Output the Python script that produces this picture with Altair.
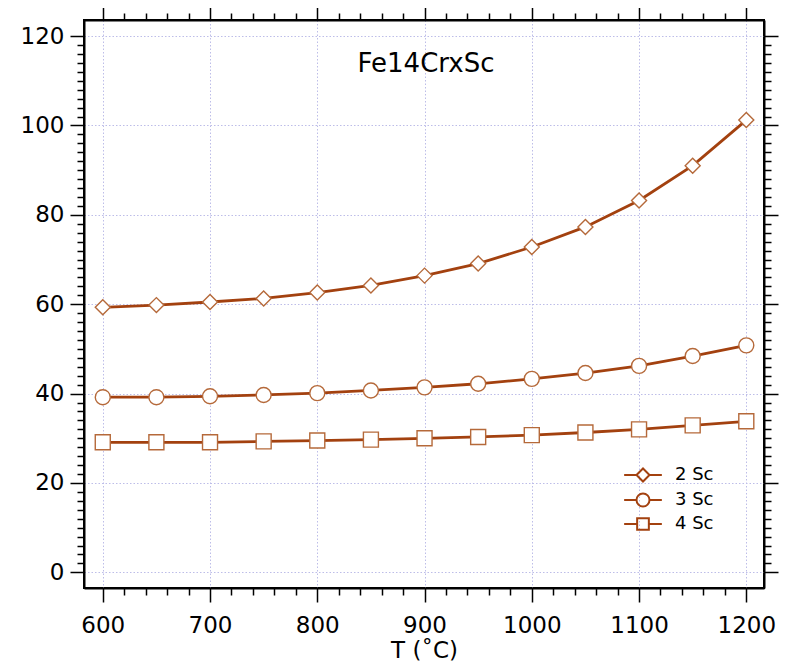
import altair as alt
import pandas as pd

temps = [600, 650, 700, 750, 800, 850, 900, 950, 1000, 1050, 1100, 1150, 1200]
sc2 = [59.3, 59.8, 60.5, 61.3, 62.6, 64.2, 66.4, 69.1, 72.8, 77.3, 83.2, 91.0, 101.2]
sc3 = [39.2, 39.2, 39.4, 39.7, 40.1, 40.7, 41.4, 42.2, 43.3, 44.6, 46.2, 48.4, 50.8]
sc4 = [29.1, 29.1, 29.1, 29.3, 29.5, 29.7, 30.0, 30.3, 30.7, 31.3, 32.0, 32.9, 33.8]
series_names = ["2 Sc", "3 Sc", "4 Sc"]
plot_shapes = ["diamond", "circle", "square"]
plot_sizes = [225, 225, 196]
legend_paths = [
    "M-2.9,0H-1M1,0H2.9M-1,0L0,-1L1,0L0,1Z",
    "M-2.9,0H-1M1,0H2.9M-1,0A1,1,0,1,0,1,0A1,1,0,1,0,-1,0Z",
    "M-2.9,0H-0.9M0.9,0H2.9M-0.9,-0.9H0.9V0.9H-0.9Z",
]

rows = []
for name, vals in zip(series_names, [sc2, sc3, sc4]):
    for t, v in zip(temps, vals):
        rows.append({"T": t, "value": v, "series": name})
df = pd.DataFrame(rows)

FONT = "DejaVu Sans"
LINE = "#A3410F"
MSTROKE = "#B5693A"
GRID = "#BDBDE8"

x_dom = [582.5, 1216.5]
y_dom = [-3.5, 123.6]
xticks = list(range(600, 1201, 20))
yticks = list(range(0, 121, 2))

xs = alt.Scale(domain=x_dom, nice=False, zero=False)
ys = alt.Scale(domain=y_dom, nice=False, zero=False)

xmaj = "datum.value % 100 === 0"
ymaj = "datum.value % 20 === 0"


def tick_size(test):
    return {"condition": {"test": test, "value": 14}, "value": 7}


def grid_op(test):
    return {"condition": {"test": test, "value": 1}, "value": 0}


x_bottom = alt.Axis(
    values=xticks, format="d", labelExpr=f"{xmaj} ? datum.label : ''",
    tickSize=tick_size(xmaj), grid=True, gridColor=GRID, gridDash=[1.5, 2],
    gridOpacity=grid_op(xmaj), title="T (˚C)", labelOverlap=False,
    labelFlush=False, labelPadding=12, titlePadding=2,
)
y_left = alt.Axis(
    values=yticks, format="d", labelExpr=f"{ymaj} ? datum.label : ''",
    tickSize=tick_size(ymaj), grid=True, gridColor=GRID, gridDash=[1.5, 2],
    gridOpacity=grid_op(ymaj), title=None, labelOverlap=False,
    labelFlush=False, labelPadding=6,
)
x_top = alt.Axis(orient="top", values=xticks, labels=False,
                 tickSize=tick_size(xmaj), grid=False, title=None)
y_right = alt.Axis(orient="right", values=yticks, labels=False,
                   tickSize=tick_size(ymaj), grid=False, title=None)

lines = alt.Chart(df).mark_line(color=LINE, strokeWidth=2.8).encode(
    x=alt.X("T:Q", scale=xs, axis=x_bottom),
    y=alt.Y("value:Q", scale=ys, axis=y_left),
    detail="series:N",
)

points = alt.Chart(df).mark_point(
    filled=True, fill="white", stroke=MSTROKE, strokeWidth=1.4, opacity=1
).encode(
    x=alt.X("T:Q", scale=xs, axis=x_top),
    y=alt.Y("value:Q", scale=ys, axis=y_right),
    shape=alt.Shape("series:N", scale=alt.Scale(domain=series_names, range=plot_shapes), legend=None),
    size=alt.Size("series:N", scale=alt.Scale(domain=series_names, range=plot_sizes), legend=None),
)

legend_layer = alt.Chart(df).mark_point(opacity=0).encode(
    x=alt.X("T:Q", scale=xs, axis=None),
    y=alt.Y("value:Q", scale=ys, axis=None),
    shape=alt.Shape(
        "series:N",
        scale=alt.Scale(domain=series_names, range=legend_paths),
        legend=alt.Legend(
            title=None, orient="none", legendX=550, legendY=446,
            symbolSize=169, symbolStrokeColor=LINE, symbolFillColor="white",
            symbolStrokeWidth=2, symbolOpacity=1, labelFontSize=18,
            labelFont=FONT, labelColor="black", labelOffset=23,
            rowPadding=3, padding=0,
        ),
    ),
)

chart = alt.layer(lines, points, legend_layer).resolve_scale(
    shape="independent"
).resolve_axis(
    x="independent", y="independent"
).properties(
    width=680, height=568,
    padding={"left": 76, "top": 12, "right": 16, "bottom": 83},
    autosize=alt.AutoSizeParams(type="none"),
    background="white",
    title=alt.TitleParams(
        "Fe14CrxSc", frame="group", offset=-85, baseline="middle",
        anchor="middle", fontSize=26, fontWeight="normal", font=FONT,
        color="black", dx=2,
    ),
).configure_view(
    stroke="black", strokeWidth=2
).configure_axis(
    domainColor="black", domainWidth=2, tickColor="black", tickWidth=1.5,
    labelFont=FONT, labelFontSize=23, labelColor="black",
    titleFont=FONT, titleFontSize=23, titleFontWeight="normal", titleColor="black",
).configure_legend(
    labelFont=FONT, labelFontSize=18, labelColor="black",
)

chart.save("out.html", embed_options={"renderer": "svg", "actions": False})
